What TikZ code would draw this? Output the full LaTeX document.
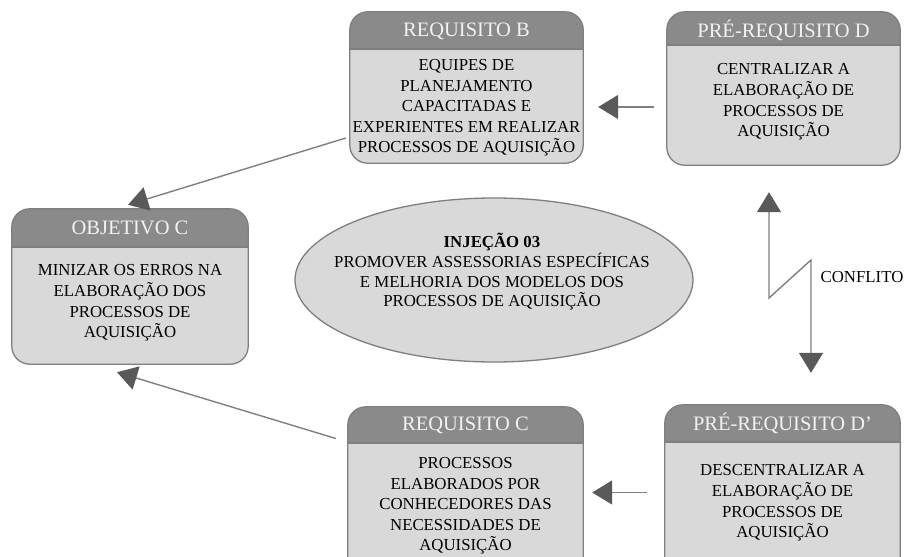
\documentclass[tikz,border=0pt]{standalone}
\usepackage{fontspec}
\setmainfont{Liberation Serif}
\usetikzlibrary{arrows.meta,shapes.geometric,calc}

\definecolor{bodyfill}{HTML}{D9D9D9}
\definecolor{headfill}{HTML}{8A8A8A}
\definecolor{edgegray}{HTML}{7F7F7F}
\definecolor{headtext}{HTML}{F2F2F2}
\definecolor{linkgray}{HTML}{808080}
\definecolor{tipdark}{HTML}{595959}

\tikzset{
  boxshape/.style={fill=bodyfill, draw=none, rounded corners=18pt, inner sep=0pt},
  boxedge/.style={draw=edgegray, line width=1.3pt},
  titletext/.style={text=headtext, font=\fontsize{20.5}{24}\selectfont, inner sep=0pt},
  bodytext/.style={text=black, font=\fontsize{16.8}{20.6}\selectfont, align=center, inner sep=0pt},
  bigtip/.tip={Triangle[length=20pt, width=24pt, color=tipdark, fill=tipdark]},
  link/.style={draw=linkgray, line width=1.4pt, -bigtip},
  ellip/.style={ellipse, fill=bodyfill, draw=edgegray, line width=1.3pt, inner sep=0pt},
}

% box with grey title band: name, x1, y1, x2, y2, bottom of title band
\newcommand\titledbox[6]{%
  \node[boxshape, minimum width={#4-#2}, minimum height={#5-#3}] (#1) at ({(#2+#4)/2},{(#3+#5)/2}) {};
  \begin{scope}
    \clip[rounded corners=18pt] (#1.south west) rectangle (#1.north east);
    \fill[headfill] (#1.north west) rectangle (#4,#6);
  \end{scope}
  \draw[boxedge] (#2,#6) -- (#4,#6);
  \draw[boxedge, rounded corners=18pt] (#1.south west) rectangle (#1.north east);
}

\begin{document}
\begin{tikzpicture}[x=1pt, y=-1pt]
  \useasboundingbox (0,0) rectangle (911,557);
  \clip (0,0) rectangle (911,557);
  \fill[white] (0,0) rectangle (911,557);

  % boxes
  \titledbox{reqB}{350}{12}{583}{163}{49}
  \node[titletext] (reqBt) at (466.5,31) {REQUISITO B};
  \node[bodytext] (reqBb) at (466.5,108) {EQUIPES DE\\PLANEJAMENTO\\CAPACITADAS E\\EXPERIENTES EM REALIZAR\\PROCESSOS DE AQUISIÇÃO};

  \titledbox{preD}{667}{12}{900}{165}{45}
  \node[titletext] (preDt) at (783.5,30) {PRÉ-REQUISITO D};
  \node[bodytext] (preDb) at (783.5,102) {CENTRALIZAR A\\ELABORAÇÃO DE\\PROCESSOS DE\\AQUISIÇÃO};

  \titledbox{objC}{12}{209}{248}{364}{247}
  \node[titletext] (objCt) at (130,228) {OBJETIVO C};
  \node[bodytext] (objCb) at (130,303) {MINIZAR OS ERROS NA\\ELABORAÇÃO DOS\\PROCESSOS DE\\AQUISIÇÃO};

  \titledbox{reqC}{348}{407}{583}{575}{443}
  \node[titletext] (reqCt) at (465.5,425) {REQUISITO C};
  \node[bodytext] (reqCb) at (465.5,506) {PROCESSOS\\ELABORADOS POR\\CONHECEDORES DAS\\NECESSIDADES DE\\AQUISIÇÃO};

  \titledbox{preE}{665}{405}{900}{575}{442}
  \node[titletext] (preEt) at (782.5,423) {PRÉ-REQUISITO D’};
  \node[bodytext] (preEb) at (782.5,503) {DESCENTRALIZAR A\\ELABORAÇÃO DE\\PROCESSOS DE\\AQUISIÇÃO};

  % injection in the middle
  \node[ellip, minimum width=398pt, minimum height=164pt] (inj) at (494,280) {};
  \node[bodytext, font=\fontsize{16.8}{19.7}\selectfont] (injt) at (492,272)
    {\textbf{INJEÇÃO 03}\\PROMOVER ASSESSORIAS ESPECÍFICAS\\E MELHORIA DOS MODELOS DOS\\PROCESSOS DE AQUISIÇÃO};

  % connectors
  \draw[link, shorten <=13pt, shorten >=15pt]
    ([yshift=-18.5pt]preD.west) -- ([yshift=-18.5pt]preD.west -| reqB.east);
  \draw[link, shorten <=18pt, shorten >=9pt]
    ([yshift=-2.5pt]preE.west) -- ([yshift=-2.5pt]preE.west -| reqC.east);
  \draw[link] ([shift={(-4pt,-50.5pt)}]reqB.west) -- ([shift={(-2pt,4pt)}]objC.north);
  \draw[link] ([shift={(-12pt,52.5pt)}]reqC.west) -- ([shift={(-13pt,-8pt)}]objC.south);

  % conflict between the two prerequisites
  \coordinate (zigA) at (769,298);
  \coordinate (zigB) at (811,260);
  \draw[link, bigtip-bigtip, shorten <=27pt, shorten >=32pt]
    (preD.south -| zigA) -- (zigA) -- (zigB) -- (preE.north -| zigB);
  \node[bodytext] (conf) at (862,277) {CONFLITO};
\end{tikzpicture}
\end{document}
